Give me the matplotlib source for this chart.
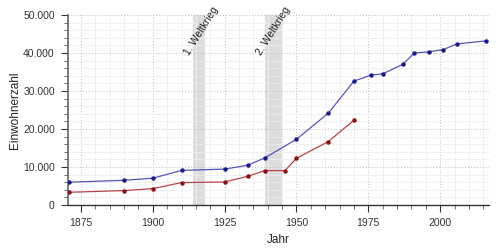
import matplotlib.pyplot as plt
from matplotlib.ticker import MultipleLocator, FuncFormatter

# Einwohnerzahl (blau) und zweite Reihe (rot)
years_blue = [1871, 1890, 1900, 1910, 1925, 1933, 1939, 1950, 1961, 1970, 1976, 1980, 1987, 1991, 1996, 2001, 2006, 2016]
pop_blue = [6000, 6500, 7050, 9100, 9450, 10450, 12400, 17300, 24100, 32600, 34200, 34500, 37000, 40000, 40300, 40900, 42400, 43200]

years_red = [1871, 1890, 1900, 1910, 1925, 1933, 1939, 1946, 1950, 1961, 1970]
pop_red = [3350, 3800, 4300, 5900, 6050, 7550, 9050, 9050, 12300, 16650, 22300]

wars = [(1914, 1918, "1. Weltkrieg"), (1939, 1945, "2. Weltkrieg")]

FONT = 'Liberation Sans'

fig = plt.figure(figsize=(5, 2.5), dpi=100)
ax = fig.add_axes([0.136, 0.18, 0.842, 0.76])

for start, end, label in wars:
    ax.axvspan(start, end, color='#dddddd', zorder=1, lw=0)
    ax.text(start + 2.8, 45800, label, rotation=58, ha='center', va='center',
            fontsize=7.5, family=FONT, color='#222222', zorder=3)

ax.plot(years_blue, pop_blue, color='#5555bb', lw=0.9, zorder=4)
ax.plot(years_blue, pop_blue, 'o', color='#1a1a8c', ms=2.2, zorder=5)
ax.plot(years_red, pop_red, color='#b84444', lw=0.9, zorder=4)
ax.plot(years_red, pop_red, 'o', color='#8b1010', ms=2.2, zorder=5)

ax.set_xlim(1870.5, 2017)
ax.set_ylim(0, 50000)
ax.xaxis.set_major_locator(MultipleLocator(25))
ax.xaxis.set_minor_locator(MultipleLocator(5))
ax.yaxis.set_major_locator(MultipleLocator(10000))
ax.yaxis.set_minor_locator(MultipleLocator(2000))
ax.yaxis.set_major_formatter(FuncFormatter(lambda v, p: f"{int(v):,}".replace(",", ".")))

ax.grid(which='major', color='#bbbbbb', ls=(0, (1, 2)), lw=0.7, zorder=0)
ax.grid(which='minor', color='#eeeeee', ls='-', lw=0.6, zorder=0)

for s in ['top', 'right']:
    ax.spines[s].set_visible(False)
ax.spines['left'].set_color('#666666')
ax.spines['bottom'].set_color('#333333')
ax.spines['left'].set_linewidth(1.2)
ax.spines['bottom'].set_linewidth(1.0)

ax.tick_params(which='major', length=5, width=0.8, labelsize=7.5, colors='#333333')
ax.tick_params(axis='y', which='major', pad=4.5)
ax.tick_params(axis='x', which='major', pad=4.5)
ax.tick_params(which='minor', length=3, width=0.6, colors='#555555')
for lab in ax.get_xticklabels() + ax.get_yticklabels():
    lab.set_family(FONT)

ax.set_xlabel("Jahr", fontsize=8.5, family=FONT, color='#222222')
ax.set_ylabel("Einwohnerzahl", fontsize=8.5, family=FONT, color='#222222')
ax.yaxis.set_label_coords(-0.112, 0.5)
ax.xaxis.set_label_coords(0.5, -0.155)

fig.savefig("out.png", dpi=100)
